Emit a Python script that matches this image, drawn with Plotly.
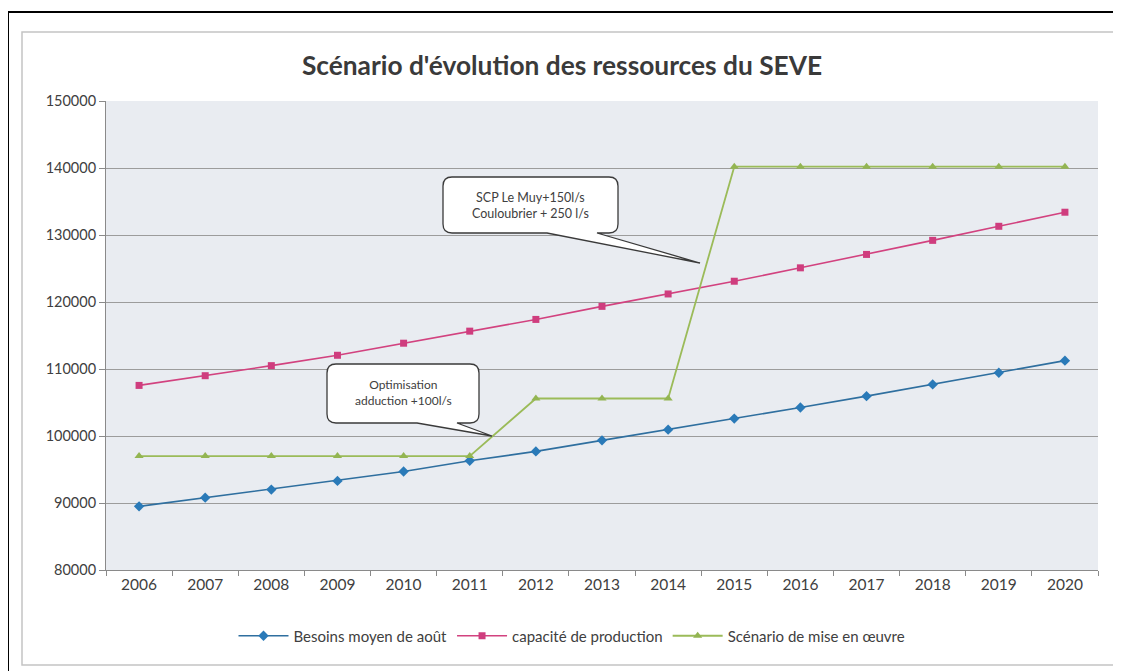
import plotly.graph_objects as go

years = [str(y) for y in range(2006, 2021)]
besoins = [89500, 90800, 92000, 93300, 94700, 96300, 97700, 99350, 100950,
           102600, 104250, 105950, 107700, 109450, 111250]
capacite = [107550, 109000, 110500, 112050, 113850, 115650, 117400, 119350,
            121200, 123100, 125100, 127100, 129200, 131300, 133400]
scenario = [97000, 97000, 97000, 97000, 97000, 97000, 105600, 105600, 105600,
            140200, 140200, 140200, 140200, 140200, 140200]
names = ["Besoins moyen de août", "capacité de production", "Scénario de mise en œuvre"]
title = "Scénario d'évolution des ressources du SEVE"
callout1 = "Optimisation<br>adduction +100l/s"
callout2 = "SCP Le Muy+150l/s<br>Couloubrier + 250 l/s"

OFF = 8  # page body margin
W, H = 1121 - OFF, 671 - OFF
# plot area in page pixels
L, R, T, B = 106, 1098, 101, 570
FONT = "Lato"


def px(x):
    return (x - L) / (R - L)


def py(y):
    return (B - y) / (B - T)


fig = go.Figure()
fig.add_trace(go.Scatter(x=years, y=besoins, name=names[0], mode="lines+markers",
                         line=dict(color="#2f6f9f", width=1.6),
                         marker=dict(symbol="diamond", size=8, color="#2a7ab8")))
fig.add_trace(go.Scatter(x=years, y=capacite, name=names[1], mode="lines+markers",
                         line=dict(color="#d2427f", width=1.6),
                         marker=dict(symbol="square", size=7, color="#cf3d7e")))
fig.add_trace(go.Scatter(x=years, y=scenario, name=names[2], mode="lines+markers",
                         line=dict(color="#9bbb59", width=1.8),
                         marker=dict(symbol="triangle-up", size=8, color="#93b552")))


def callout(x0, y0, x1, y1, tb0, tb1, tip, r=9):
    def P(x, y):
        return f"{px(x):.5f},{py(y):.5f}"
    d = [
        f"M {P(x0 + r, y0)}", f"L {P(x1 - r, y0)}", f"Q {P(x1, y0)} {P(x1, y0 + r)}",
        f"L {P(x1, y1 - r)}", f"Q {P(x1, y1)} {P(x1 - r, y1)}", f"L {P(tb1, y1)}",
        f"L {P(tip[0], tip[1])}", f"L {P(tb0, y1)}", f"L {P(x0 + r, y1)}",
        f"Q {P(x0, y1)} {P(x0, y1 - r)}", f"L {P(x0, y0 + r)}",
        f"Q {P(x0, y0)} {P(x0 + r, y0)} Z",
    ]
    return dict(type="path", path=" ".join(d), xref="paper", yref="paper",
                fillcolor="white", line=dict(color="#3a3a3a", width=1.3), layer="above")


shapes = [
    dict(type="rect", xref="paper", yref="paper", x0=px(8), y0=py(12), x1=px(1140), y1=py(700),
         line=dict(color="black", width=2), fillcolor="rgba(0,0,0,0)", layer="below"),
    dict(type="rect", xref="paper", yref="paper", x0=px(22), y0=py(32), x1=px(1117), y1=py(665),
         line=dict(color="#c4c4c4", width=1.5), fillcolor="rgba(0,0,0,0)", layer="below"),
    callout(327, 364, 479, 423, 417, 457, (492, 436)),
    callout(443, 177, 618, 233, 547, 597, (700, 263)),
]

annotations = [
    dict(text=callout1, xref="paper", yref="paper", x=px(403), y=py(393), showarrow=False,
         font=dict(family=FONT, size=12, color="#404040"), xanchor="center", yanchor="middle"),
    dict(text=callout2, xref="paper", yref="paper", x=px(530), y=py(205), showarrow=False,
         font=dict(family=FONT, size=12.5, color="#404040"), xanchor="center", yanchor="middle"),
]

fig.update_layout(
    width=W, height=H,
    margin=dict(l=L - OFF, r=(W + OFF) - R, t=T - OFF, b=(H + OFF) - B, autoexpand=False),
    paper_bgcolor="white", plot_bgcolor="#e9ecf1",
    title=dict(text=f"<b>{title}</b>", x=(562 - OFF) / W, xanchor="center",
               y=1 - (66 - OFF) / H, yanchor="middle",
               font=dict(family=FONT, size=26.3, color="#3a3a3a")),
    showlegend=True,
    legend=dict(orientation="h", x=px(572), xanchor="center", y=py(636), yanchor="middle",
                font=dict(family=FONT, size=15, color="#404040"), bgcolor="rgba(0,0,0,0)",
                itemwidth=50, tracegroupgap=0),
    shapes=shapes, annotations=annotations,
    xaxis=dict(type="category", range=[-0.5, 14.5], tickson="boundaries", ticks="outside",
               ticklen=5, tickcolor="#8a8a8a", showgrid=False, showline=True, linecolor="#8a8a8a",
               linewidth=1, tickfont=dict(family=FONT, size=15.5, color="#404040"), fixedrange=True),
    yaxis=dict(range=[80000, 150000], dtick=10000, tickformat="d", ticks="outside", ticklen=6,
               tickcolor="#8a8a8a", showgrid=True, gridcolor="#9c9c9c", gridwidth=1,
               showline=True, linecolor="#8a8a8a", linewidth=1, zeroline=False,
               tickfont=dict(family=FONT, size=14.5, color="#404040"), fixedrange=True),
)

fig.write_html("out.html")
